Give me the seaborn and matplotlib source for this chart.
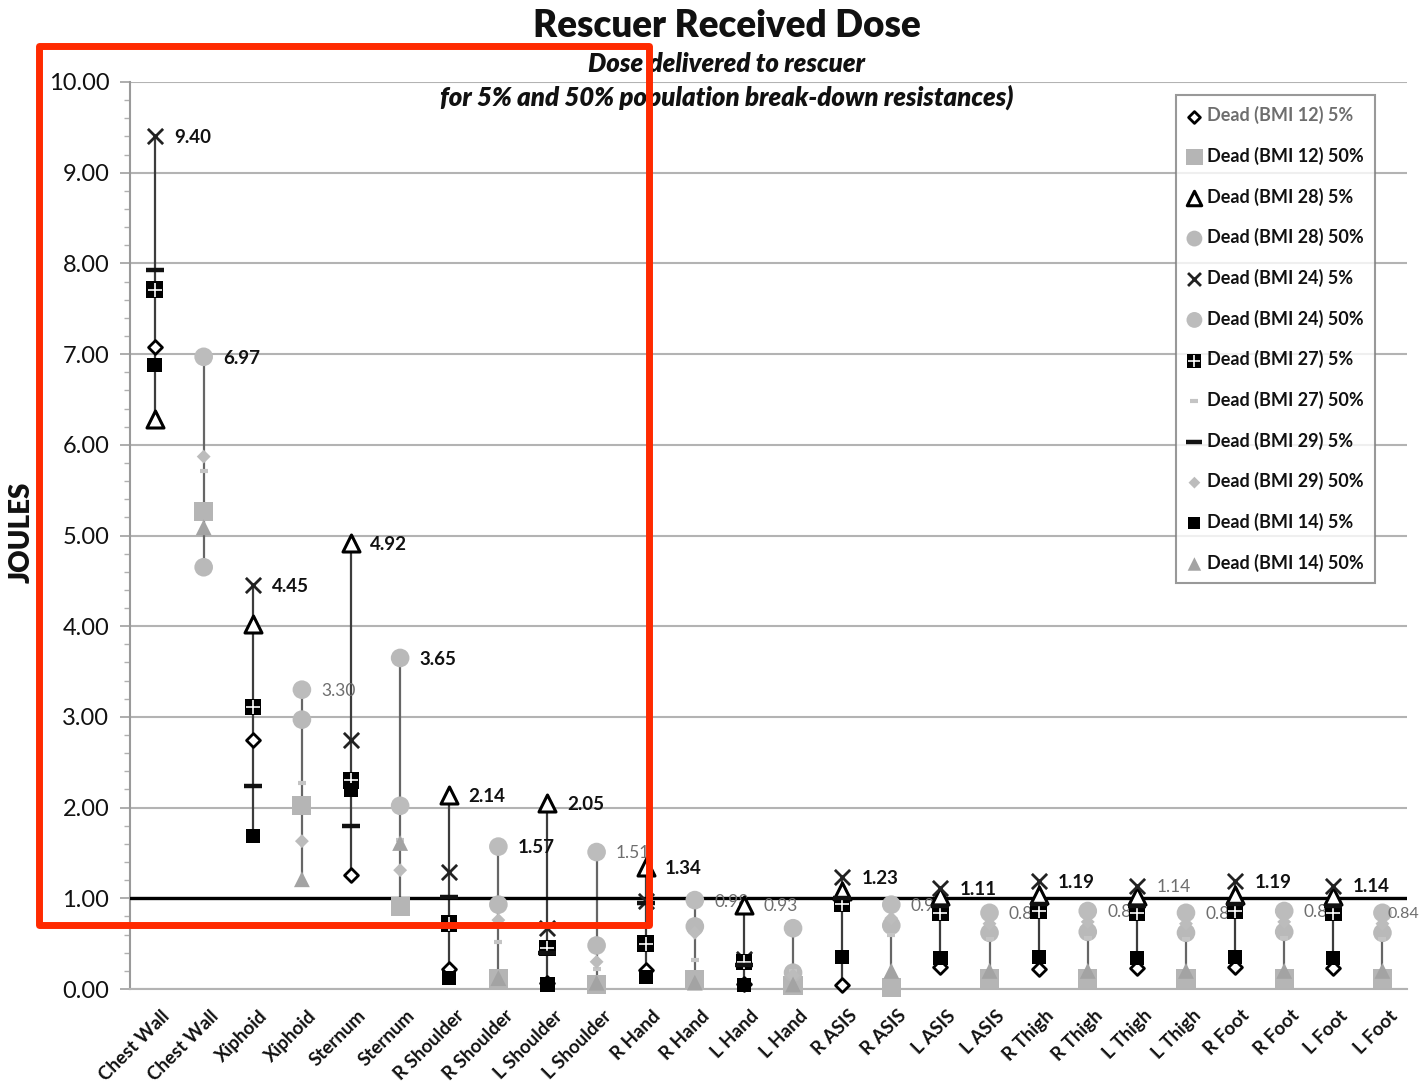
import numpy as np
import pandas as pd
import matplotlib
matplotlib.use("Agg")
import matplotlib.pyplot as plt
from matplotlib.patches import Rectangle
from matplotlib.ticker import MultipleLocator, FormatStrFormatter
import seaborn as sns

# Body regions; each is shown twice: 5% resistance (left) and 50% resistance (right)
regions = ["Chest Wall", "Xiphoid", "Sternum", "R Shoulder", "L Shoulder", "R Hand",
           "L Hand", "R ASIS", "L ASIS", "R Thigh", "L Thigh", "R Foot", "L Foot"]

# Dose (joules) delivered to rescuer, 5% population break-down resistance
bmi12_5 = [7.08, 2.75, 1.26, 0.22, 0.07, 0.21, 0.05, 0.04, 0.24, 0.22, 0.23, 0.24, 0.23]
bmi28_5 = [6.28, 4.02, 4.92, 2.14, 2.05, 1.34, 0.93, 1.08, 1.02, 1.04, 1.03, 1.04, 1.03]
bmi24_5 = [9.40, 4.45, 2.75, 1.29, 0.67, 0.97, 0.33, 1.23, 1.11, 1.19, 1.14, 1.19, 1.14]
bmi27_5 = [7.71, 3.11, 2.30, 0.72, 0.45, 0.50, 0.30, 0.94, 0.84, 0.86, 0.84, 0.86, 0.84]
bmi29_5 = [7.93, 2.24, 1.80, 1.01, 0.40, 0.95, 0.27, 1.00, 0.92, 0.94, 0.92, 0.94, 0.92]
bmi14_5 = [6.88, 1.69, 2.19, 0.12, 0.05, 0.13, 0.04, 0.35, 0.34, 0.35, 0.34, 0.35, 0.34]

# Dose (joules) delivered to rescuer, 50% population break-down resistance
bmi12_50 = [5.26, 2.02, 0.91, 0.12, 0.05, 0.10, 0.04, 0.02, 0.12, 0.12, 0.12, 0.12, 0.12]
bmi28_50 = [4.65, 2.97, 3.65, 0.93, 0.48, 0.69, 0.18, 0.70, 0.62, 0.63, 0.62, 0.63, 0.62]
bmi24_50 = [6.97, 3.30, 2.02, 1.57, 1.51, 0.98, 0.67, 0.93, 0.84, 0.86, 0.84, 0.86, 0.84]
bmi27_50 = [5.71, 2.27, 1.64, 0.52, 0.22, 0.32, 0.20, 0.60, 0.55, 0.56, 0.55, 0.56, 0.55]
bmi29_50 = [5.87, 1.63, 1.31, 0.76, 0.30, 0.62, 0.15, 0.78, 0.72, 0.74, 0.72, 0.74, 0.72]
bmi14_50 = [5.09, 1.21, 1.61, 0.12, 0.07, 0.07, 0.05, 0.20, 0.20, 0.20, 0.20, 0.20, 0.20]

series = [
    ("Dead (BMI 12) 5%", "5%", bmi12_5),
    ("Dead (BMI 12) 50%", "50%", bmi12_50),
    ("Dead (BMI 28) 5%", "5%", bmi28_5),
    ("Dead (BMI 28) 50%", "50%", bmi28_50),
    ("Dead (BMI 24) 5%", "5%", bmi24_5),
    ("Dead (BMI 24) 50%", "50%", bmi24_50),
    ("Dead (BMI 27) 5%", "5%", bmi27_5),
    ("Dead (BMI 27) 50%", "50%", bmi27_50),
    ("Dead (BMI 29) 5%", "5%", bmi29_5),
    ("Dead (BMI 29) 50%", "50%", bmi29_50),
    ("Dead (BMI 14) 5%", "5%", bmi14_5),
    ("Dead (BMI 14) 50%", "50%", bmi14_50),
]

rows = []
for name, pct, vals in series:
    for i, v in enumerate(vals):
        rows.append(dict(series=name, pct=pct, region=regions[i],
                         xpos=2 * i + (0 if pct == "5%" else 1), joules=v))
df = pd.DataFrame(rows)

tick_labels = [r for r in regions for _ in (0, 1)]

# ---------------------------------------------------------------- styling
sns.set_theme(style="white")
plt.rcParams["font.family"] = ["Lato", "DejaVu Sans"]

styles = {
    "Dead (BMI 12) 5%": [dict(marker="D", s=50, color="white", edgecolor="black", linewidth=2.0)],
    "Dead (BMI 12) 50%": [dict(marker="s", s=190, color="#b5b5b5", edgecolor="none")],
    "Dead (BMI 28) 5%": [dict(marker="^", s=150, color="white", edgecolor="black", linewidth=2.2)],
    "Dead (BMI 28) 50%": [dict(marker="o", s=180, color="#b9b9b9", edgecolor="none")],
    "Dead (BMI 24) 5%": [dict(marker="x", s=120, color="#222222", linewidth=2.0)],
    "Dead (BMI 24) 50%": [dict(marker="o", s=180, color="#bcbcbc", edgecolor="none")],
    "Dead (BMI 27) 5%": [dict(marker="s", s=140, color="black", edgecolor="none"),
                         dict(marker="+", s=95, color="white", linewidth=1.2)],
    "Dead (BMI 27) 50%": [dict(marker="_", s=40, color="#c4c4c4", linewidth=3)],
    "Dead (BMI 29) 5%": [dict(marker="_", s=170, color="#111111", linewidth=3.2)],
    "Dead (BMI 29) 50%": [dict(marker="D", s=50, color="#bcbcbc", edgecolor="none")],
    "Dead (BMI 14) 5%": [dict(marker="s", s=105, color="black", edgecolor="none")],
    "Dead (BMI 14) 50%": [dict(marker="^", s=130, color="#a3a3a3", edgecolor="none")],
}

W, H = 1421, 1087
fig = plt.figure(figsize=(W / 100, H / 100), dpi=100)
ax = fig.add_axes([130 / W, 1 - 989 / H, (1407 - 130) / W, (989 - 82) / H])

# high-low lines spanning every category
span = df.groupby("xpos")["joules"].agg(["min", "max"]).reset_index()
line_col = np.where(span["xpos"] % 2 == 0, "#3c3c3c", "#666666")
ax.vlines(span["xpos"], span["min"], span["max"], colors=line_col, linewidth=1.6, zorder=2)

# reference threshold at 1 joule
ax.axhline(1.0, color="black", linewidth=2.4, zorder=2.8)

handles, labels = [], []
for k, (name, pct, vals) in enumerate(series):
    sub = df[df["series"] == name]
    parts = []
    for j, st in enumerate(styles[name]):
        sns.scatterplot(data=sub, x="xpos", y="joules", ax=ax, legend=False,
                        zorder=3 + k * 0.1 + j * 0.01, clip_on=False, **st)
        parts.append(ax.collections[-1])
    handles.append(tuple(parts) if len(parts) > 1 else parts[0])
    labels.append(name)

# value labels at each category's maximum
gray_labels = {3, 9, 11, 12, 15, 17, 19, 20, 21, 23, 25}
unlabeled = {13}
last = len(tick_labels) - 1
for _, r in span.iterrows():
    xi = int(r["xpos"])
    if xi in unlabeled:
        continue
    gray = xi in gray_labels
    if xi == last:
        dx, fs = 4, 11.5
    else:
        dx, fs = 14, (12.5 if gray else 13.5)
    ax.annotate(f"{r['max']:.2f}", (xi, r["max"]), xytext=(dx, -1),
                textcoords="offset points", ha="left", va="center",
                fontsize=fs, fontweight="normal" if gray else "bold",
                color="#6e6e6e" if gray else "#111111",
                zorder=3.5 if xi == last else 2.9)

# axes
ax.set_xlim(-0.5, 25.5)
ax.set_ylim(0, 10)
ax.yaxis.set_major_locator(MultipleLocator(1))
ax.yaxis.set_minor_locator(MultipleLocator(0.2))
ax.yaxis.set_major_formatter(FormatStrFormatter("%.2f"))
ax.yaxis.grid(True, which="major", color="#b3b3b3", linewidth=1.5)
ax.set_axisbelow(True)
ax.tick_params(axis="y", which="major", direction="out", length=7, width=1.2,
               color="#a0a0a0", labelsize=17, labelcolor="#111111", pad=8, left=True)
ax.tick_params(axis="y", which="minor", direction="out", length=4, width=1.0,
               color="#b0b0b0", left=True)
ax.set_xticks(range(len(tick_labels)))
ax.set_xticklabels(tick_labels, rotation=45, ha="right", rotation_mode="anchor",
                   fontsize=13.5, fontweight="bold", color="#111111")
ax.tick_params(axis="x", length=0, pad=13)
for t in ax.get_xticklabels():
    t.set_transform(t.get_transform() + matplotlib.transforms.ScaledTranslation(6 / 100, 0, fig.dpi_scale_trans))
for side in ("top", "right"):
    ax.spines[side].set_visible(False)
ax.spines["left"].set_color("#9a9a9a")
ax.spines["left"].set_linewidth(1.5)
ax.spines["bottom"].set_color("#b3b3b3")
ax.spines["bottom"].set_linewidth(1.5)
ax.set_xlabel("")
ax.set_ylabel("")

# titles
fig.text(727 / W, 1 - 26 / H, "Rescuer Received Dose", ha="center", va="center",
         fontsize=26.5, fontweight="heavy", color="#111111")
fig.text(727 / W, 1 - 64 / H, "Dose delivered to rescuer", ha="center", va="center",
         fontsize=18.5, fontweight="heavy", style="italic", color="#111111")
fig.text(727 / W, 1 - 97 / H, "for 5% and 50% population break-down resistances)",
         ha="center", va="center", fontsize=18.5, fontweight="heavy", style="italic",
         color="#111111")
fig.text(35 / W, 1 - 532 / H, "JOULES", rotation=90, ha="right", va="center",
         fontsize=20, fontweight="heavy", color="#111111")

# legend
leg = fig.legend(handles, labels, loc="upper left",
                 bbox_to_anchor=(1176 / W, 1 - 95 / H), bbox_transform=fig.transFigure,
                 frameon=True, fancybox=False, fontsize=13, labelspacing=1.25,
                 handlelength=0.8, handletextpad=0.3, borderpad=0.62,
                 markerscale=0.85, borderaxespad=0)
leg.get_frame().set_edgecolor("#808080")
leg.get_frame().set_linewidth(1.5)
for i, t in enumerate(leg.get_texts()):
    t.set_color("#6e6e6e" if i == 0 else "#111111")
    t.set_fontweight("bold")

# highlight box around the trunk readings
fig.add_artist(Rectangle((38.5 / W, 1 - 924.5 / H), 610 / W, 879 / H,
                         transform=fig.transFigure, fill=False, edgecolor="#ff2a00",
                         linewidth=5.0, joinstyle="round", zorder=20))

fig.savefig("out.png", dpi=100, facecolor="white")
